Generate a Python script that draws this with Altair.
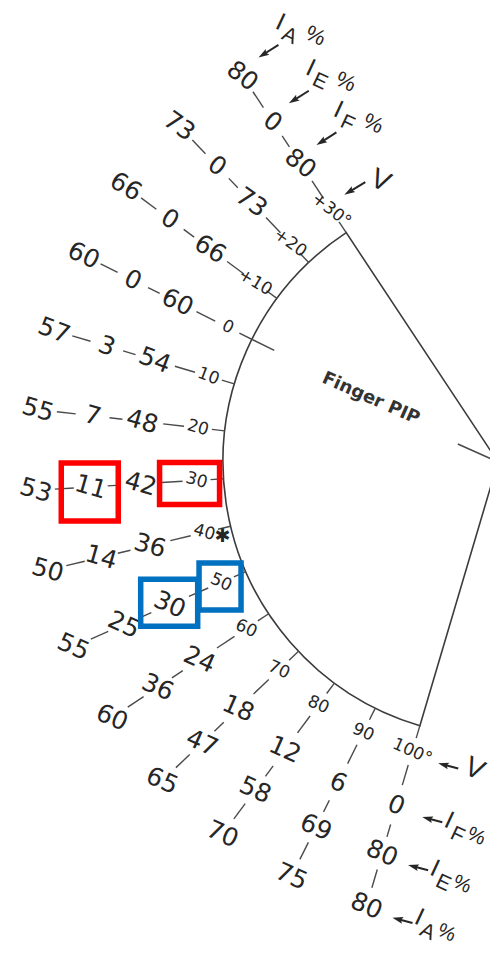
import math
import altair as alt
import pandas as pd

# ---------------- data ----------------
flex_deg = [-30, -20, -10, 0, 10, 20, 30, 40, 50, 60, 70, 80, 90, 100]
v_labels = ["+30°", "+20", "+10", "0", "10", "20", "30", "40", "50", "60", "70", "80", "90", "100°"]
if_pct = [80, 73, 66, 60, 54, 48, 42, 36, 30, 24, 18, 12, 6, 0]
ie_pct = [0, 0, 0, 0, 3, 7, 11, 14, 25, 36, 47, 58, 69, 80]
ia_pct = [80, 73, 66, 60, 57, 55, 53, 50, 55, 60, 65, 70, 75, 80]
starred_flex = [40]
joint_name = "Finger PIP"
series_order = ["V", "IF", "IE", "IA"]
series_sub = {"V": "", "IF": "F", "IE": "E", "IA": "A"}
highlights = [("IE", 30, "red"), ("V", 30, "red"), ("IF", 50, "blue"), ("V", 50, "blue")]

# ---------------- layout / style ----------------
W, H = 482, 940
CX, CY = 498, 462          # vertex of the joint sector
R_ARC = 275
ZERO_ANGLE = 153.5         # direction of 0 deg on the dial
RING = {"V": 302, "IF": 358, "IE": 408, "IA": 463}
DASHES = [(316, 337), (378, 391), (425, 444)]
FONT = "DejaVu Sans"
INK = "#262626"
LINE = "#3c3c3c"
BOX_COL = {"red": "#ff0000", "blue": "#0070c0"}
BOX_GEOM = {("IE", 30): (57, 58, -1, 5), ("V", 30): (60, 42, -7, 3),
            ("IF", 50): (57, 47, -0.5, -2), ("V", 50): (42, 47, -1, 4)}


def polar(flex, r):
    a = math.radians(ZERO_ANGLE + flex)
    return CX + r * math.cos(a), CY - r * math.sin(a)


def rot_for(flex):
    if flex >= 50:
        return 24
    return min(38, 16 + 0.5 * max(0, 20 - flex))


values = {"V": v_labels, "IF": if_pct, "IE": ie_pct, "IA": ia_pct}
sizes = {"V": 17, "IF": 25, "IE": 25, "IA": 25}

# value labels
lab_rows = []
for i, f in enumerate(flex_deg):
    for s in series_order:
        x, y = polar(f, RING[s])
        lab_rows.append(dict(x=x, y=y, text=str(values[s][i]), size=sizes[s], rot=rot_for(f)))
labels = pd.DataFrame(lab_rows)

star_rows = []
for f in starred_flex:
    x, y = polar(f + 1.5, 285)
    star_rows.append(dict(x=x, y=y, text="✱"))
stars = pd.DataFrame(star_rows)

# ray segments (ticks and dashes)
seg_rows = []
for f in flex_deg:
    spans = [(250, R_ARC + 14)] if f == 0 else [(R_ARC, R_ARC + 13)]
    spans += DASHES
    for r1, r2 in spans:
        x1, y1 = polar(f, r1)
        x2, y2 = polar(f, r2)
        seg_rows.append(dict(x=x1, y=y1, x2=x2, y2=y2, w=1.4))
vx1, vy1 = polar(2.5, 0)
vx2, vy2 = polar(2.5, 44)
seg_rows.append(dict(x=vx1, y=vy1, x2=vx2, y2=vy2, w=1.6))
segs = pd.DataFrame(seg_rows)

# headers with arrows
hdr_rows, arrow_rows, head_rows = [], [], []
for end, f in (("top", flex_deg[0]), ("bottom", flex_deg[-1])):
    for s in series_order:
        lx, ly = polar(f, RING[s])
        if end == "top":
            if s == "V":
                head, tail, anchor = (lx + 14, ly - 16), (lx + 34, ly - 28), (lx + 49, ly - 29)
            else:
                head, tail, anchor = (lx + 17, ly - 19), (lx + 36, ly - 31), (lx + 38, ly - 54)
            sub_off, pct_off, pct_size = (9, 14), (35, 14), 22
        else:
            head, tail = (lx + 27, ly + 12), (lx + 46, ly + 17)
            anchor = (lx + 62, ly + 18) if s == "V" else (lx + 53, ly + (11 if s == "IA" else 15))
            sub_off, pct_off, pct_size = (8, 15), (27, 16), 20
        dx, dy = head[0] - tail[0], head[1] - tail[1]
        n = math.hypot(dx, dy)
        ux, uy = dx / n, dy / n
        hs = 5.0
        cxh, cyh = head[0] - ux * hs, head[1] - uy * hs
        ang = math.degrees(math.atan2(dx, -dy)) % 360
        head_rows.append(dict(x=cxh, y=cyh, ang=ang))
        arrow_rows.append(dict(x=tail[0], y=tail[1], x2=cxh, y2=cyh))
        rot = 25
        if s == "V":
            hdr_rows.append(dict(x=anchor[0], y=anchor[1], text="V", size=28, rot=rot))
        else:
            pieces = [("I", 0, 0, 25), (series_sub[s], sub_off[0], sub_off[1], 21),
                      ("%", pct_off[0], pct_off[1], pct_size)]
            for t, ox, oy, fs in pieces:
                hdr_rows.append(dict(x=anchor[0] + ox, y=anchor[1] + oy, text=t, size=fs, rot=rot))
hdrs = pd.DataFrame(hdr_rows)
arrows = pd.DataFrame(arrow_rows)
heads = pd.DataFrame(head_rows)

# highlight boxes
box_rows = []
for s, f, col in highlights:
    lx, ly = polar(f, RING[s])
    w, h, ox, oy = BOX_GEOM[(s, f)]
    cx, cy = lx + ox, ly + oy
    box_rows.append(dict(x=cx - w / 2, x2=cx + w / 2, y=cy - h / 2, y2=cy + h / 2, col=BOX_COL[col]))
boxes = pd.DataFrame(box_rows)

# title inside the sector
tx, ty = polar(0, 142)
title_df = pd.DataFrame([dict(x=tx, y=ty, text=joint_name)])

# sector (arc mark)
a_start = math.radians((90 - (ZERO_ANGLE + flex_deg[-1])) % 360)
a_end = math.radians((90 - (ZERO_ANGLE + flex_deg[0])) % 360)
sector_df = pd.DataFrame([dict(x=CX, y=CY)])

XS = alt.Scale(domain=[8, 8 + W], nice=False, zero=False)
YS = alt.Scale(domain=[8 + H, 8], nice=False, zero=False)


def X(f="x"):
    return alt.X(f"{f}:Q", scale=XS, axis=None)


def Y(f="y"):
    return alt.Y(f"{f}:Q", scale=YS, axis=None)


sector = alt.Chart(sector_df).mark_arc(
    radius=R_ARC, radius2=0, theta=a_start, theta2=a_end,
    fillOpacity=0, stroke=LINE, strokeWidth=1.6
).encode(x=X(), y=Y())

seg_layer = alt.Chart(segs).mark_rule(color="#4a4a4a").encode(
    x=X(), y=Y(), x2="x2:Q", y2="y2:Q", strokeWidth=alt.StrokeWidth("w:Q", scale=None)
)

label_layer = alt.Chart(labels).mark_text(font=FONT, color=INK, align="center", baseline="middle").encode(
    x=X(), y=Y(), text="text:N",
    size=alt.Size("size:Q", scale=None), angle=alt.Angle("rot:Q", scale=None)
)

star_layer = alt.Chart(stars).mark_text(font="DejaVu Sans", color=INK, fontSize=19, align="center",
                                         baseline="middle").encode(x=X(), y=Y(), text="text:N")

hdr_layer = alt.Chart(hdrs).mark_text(font="Liberation Sans", color=INK, align="center",
                                      baseline="middle").encode(
    x=X(), y=Y(), text="text:N",
    size=alt.Size("size:Q", scale=None), angle=alt.Angle("rot:Q", scale=None)
)

arrow_layer = alt.Chart(arrows).mark_rule(color=INK, strokeWidth=2).encode(
    x=X(), y=Y(), x2="x2:Q", y2="y2:Q"
)

head_layer = alt.Chart(heads).mark_point(
    shape="M0,-1L0.55,0.75L0,0.45L-0.55,0.75Z", filled=True, color=INK, opacity=1, size=150
).encode(x=X(), y=Y(), angle=alt.Angle("ang:Q", scale=None))

box_layer = alt.Chart(boxes).mark_rect(fillOpacity=0, strokeWidth=5.5).encode(
    x=X(), y=Y(), x2="x2:Q", y2="y2:Q", stroke=alt.Stroke("col:N", scale=None)
)

title_layer = alt.Chart(title_df).mark_text(
    font="DejaVu Sans", fontWeight="bold", fontSize=18, color="#333333", angle=24,
    align="center", baseline="middle"
).encode(x=X(), y=Y(), text="text:N")

chart = alt.layer(
    sector, seg_layer, label_layer, star_layer, arrow_layer, head_layer, hdr_layer, title_layer, box_layer
).properties(
    width=W, height=H, padding=0, autosize=alt.AutoSizeParams(type="none"), background="white"
).configure_view(stroke=None)

chart.save("out.html", embed_options={"renderer": "svg", "actions": False})
